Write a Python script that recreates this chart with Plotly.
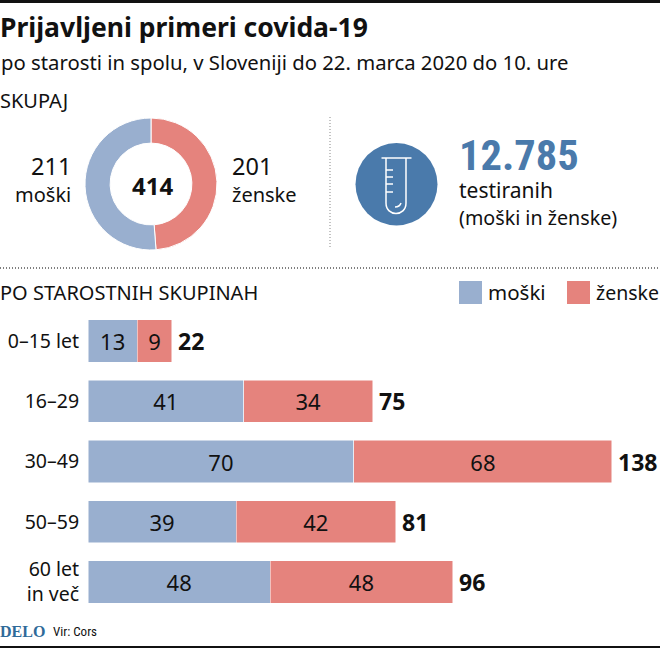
import plotly.graph_objects as go

W, H = 660, 648
categories = ["0–15 let", "16–29", "30–49", "50–59", "60 let<br>in več"]
men = [13, 41, 70, 39, 48]
women = [9, 34, 68, 42, 48]
totals = [22, 75, 138, 81, 96]
donut_labels = ["ženske", "moški"]
donut_values = [201, 211]
donut_total = 414
tested = "12.785"

BLUE = "#99afcf"
RED = "#e5837d"
STEEL = "#4a7aab"
INK = "#111111"
FONT = "Noto Sans"
NARROW = "Roboto Condensed, DejaVu Sans Condensed, Noto Sans"


def px(x):
    return x / W


def py(y):
    return 1 - y / H


fig = go.Figure()
fig.add_bar(y=categories, x=men, name="moški", orientation="h", width=0.7,
            marker=dict(color=BLUE, line=dict(color="white", width=0.5)),
            text=men, textposition="inside", insidetextanchor="middle", textangle=0,
            textfont=dict(size=22, color=INK, family=FONT), constraintext="none")
fig.add_bar(y=categories, x=women, name="ženske", orientation="h", width=0.7,
            marker=dict(color=RED, line=dict(color="white", width=0.5)),
            text=women, textposition="inside", insidetextanchor="middle", textangle=0,
            textfont=dict(size=22, color=INK, family=FONT), constraintext="none")
fig.add_pie(labels=donut_labels, values=donut_values, hole=0.62, sort=False, direction="clockwise",
            rotation=0, textinfo="none", marker=dict(colors=[RED, BLUE], line=dict(color="white", width=1)),
            domain=dict(x=[px(85), px(217)], y=[py(250), py(118)]))

scale = 3.797
fig.update_layout(
    width=W, height=H, margin=dict(l=0, r=0, t=0, b=0), autosize=False,
    paper_bgcolor="white", plot_bgcolor="rgba(0,0,0,0)", showlegend=False, barmode="stack",
    font=dict(family=FONT, color=INK),
    xaxis=dict(domain=[px(88), 1], range=[0, (W - 88) / scale], visible=False, fixedrange=True),
    yaxis=dict(domain=[0, 1], type="category", categoryorder="array", categoryarray=categories,
               range=[(H - 341) / 60.25, -341 / 60.25], showgrid=False, zeroline=False, showline=False,
               tickmode="array", tickvals=categories, ticktext=categories,
               ticks="outside", ticklen=4, tickcolor="rgba(0,0,0,0)",
               tickfont=dict(size=19.5, color=INK, family=FONT), fixedrange=True),
)

for cat, total in zip(categories, totals):
    fig.add_annotation(x=total, y=cat, xref="x", yref="y", text=f"<b>{total}</b>", showarrow=False,
                       xanchor="left", yanchor="middle", xshift=4, yshift=0,
                       font=dict(size=23, color=INK, family=FONT))

shapes = []
shapes.append(dict(type="rect", xref="paper", yref="paper", x0=0, x1=1, y0=py(3), y1=py(0),
                   fillcolor="#111111", line_width=0))
shapes.append(dict(type="rect", xref="paper", yref="paper", x0=0, x1=1, y0=py(648), y1=py(646),
                   fillcolor="#111111", line_width=0))
shapes.append(dict(type="line", xref="paper", yref="paper", x0=0, x1=1, y0=py(268), y1=py(268),
                   line=dict(color="#555555", width=1.5, dash="1px 2px")))
shapes.append(dict(type="line", xref="paper", yref="paper", x0=px(330), x1=px(330), y0=py(117), y1=py(249),
                   line=dict(color="#888888", width=1, dash="1px 2px")))
for x0, c in ((459, BLUE), (567, RED)):
    shapes.append(dict(type="rect", xref="paper", yref="paper", x0=px(x0), x1=px(x0 + 23),
                       y0=py(304), y1=py(281), fillcolor=c, line_width=0))
shapes.append(dict(type="circle", xref="paper", yref="paper", x0=px(355.5), x1=px(437.5), y0=py(225.5), y1=py(143),
                   fillcolor=STEEL, line_width=0))


def P(x, y):
    return f"{px(x):.5f},{py(y):.5f}"


icon = dict(color="white", width=1.5)
tube = (f"M{P(386, 158)} L{P(386, 203)} C{P(386, 217)} {P(406, 217)} {P(406, 203)} L{P(406, 158)}")
paths = [tube, f"M{P(381.5, 158)} L{P(411.5, 158)}",
         f"M{P(395, 207)} C{P(398, 207)} {P(400, 206)} {P(401, 203)}"]
for yy in (170, 177, 184, 192):
    paths.append(f"M{P(386, yy)} L{P(393, yy)}")
for p in paths:
    shapes.append(dict(type="path", xref="paper", yref="paper", path=p, line=icon))
fig.update_layout(shapes=shapes)


def note(x, y, text, size, anchor="left", color=INK, family=FONT):
    fig.add_annotation(xref="paper", yref="paper", x=px(x), y=py(y), text=text, showarrow=False,
                       xanchor=anchor, yanchor="middle", align=anchor,
                       font=dict(size=size, color=color, family=family), borderpad=0, borderwidth=0)


note(0, 27, "<b>Prijavljeni primeri covida-19</b>", 26.5)
note(1, 62, "po starosti in spolu, v Sloveniji do 22. marca 2020 do 10. ure", 20.3)
note(0, 100, "SKUPAJ", 20)
note(71, 166, str(donut_values[1]), 23.5, "right")
note(71, 194, donut_labels[1], 20, "right")
note(232, 166, str(donut_values[0]), 23.5)
note(232, 194, donut_labels[0], 20)
note(152, 185, f"<b>{donut_total}</b>", 24, "center")
note(459, 155, f"<b>{tested}</b>", 42.5, color=STEEL, family=NARROW)
note(459, 190, "testiranih", 21)
note(459, 217, "(moški in ženske)", 19.7)
note(0, 292, "PO STAROSTNIH SKUPINAH", 20)
note(488, 292, "moški", 20.5)
note(596, 292, "ženske", 19.5)
note(0, 631, "<b>DELO</b>", 16, color="#2f6a99", family="Liberation Serif")
note(53, 631, "Vir: Cors", 13, family=NARROW)

fig.write_html("out.html", post_script="document.body.style.margin='0';",
               config={"displayModeBar": False})
